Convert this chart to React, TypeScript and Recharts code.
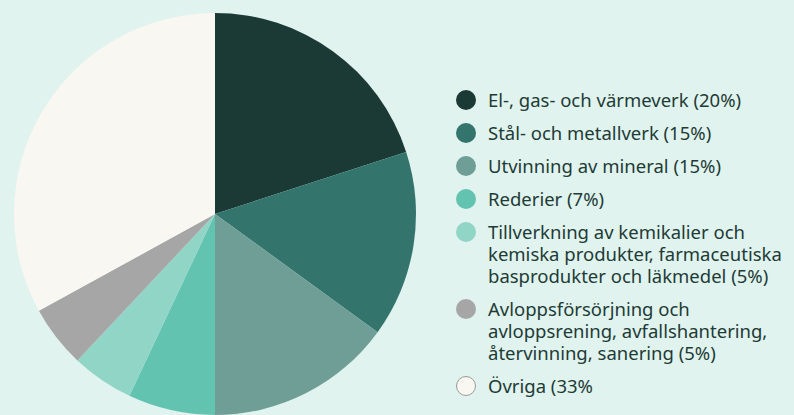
import React from 'react';
import { PieChart, Pie, Cell, Legend } from 'recharts';

const CATEGORIES = [
  'El-, gas- och värmeverk (20%)',
  'Stål- och metallverk (15%)',
  'Utvinning av mineral (15%)',
  'Rederier (7%)',
  'Tillverkning av kemikalier och\nkemiska produkter, farmaceutiska\nbasprodukter och läkmedel (5%)',
  'Avloppsförsörjning och\navloppsrening, avfallshantering,\nåtervinning, sanering (5%)',
  'Övriga (33%',
];
const VALUES = [20, 15, 15, 7, 5, 5, 33];
const COLORS = ['#1c3a35', '#33756c', '#6f9e97', '#62c4b0', '#91d5c6', '#a6a6a6', '#f9f7f1'];

const BG = '#e0f3ee';
const TEXT = '#1e3b36';

const data = CATEGORIES.map((name, i) => ({ name, value: VALUES[i] }));

const LegendList = () => (
  <div style={{ fontFamily: '"Noto Sans", sans-serif', fontSize: 18.5, color: TEXT }}>
    {data.map((d, i) => (
      <div key={i} style={{ display: 'flex', alignItems: 'flex-start', marginBottom: 11 }}>
        <span
          style={{
            width: 20,
            height: 20,
            marginTop: 1,
            borderRadius: '50%',
            background: COLORS[i],
            boxSizing: 'border-box',
            border: i === COLORS.length - 1 ? '1px solid #9a9a9a' : 'none',
            flexShrink: 0,
            marginRight: 12,
          }}
        />
        <span style={{ whiteSpace: 'pre-line', lineHeight: '22px' }}>{d.name}</span>
      </div>
    ))}
  </div>
);

const App: React.FC = () => {
  return (
    <div style={{ position: 'fixed', top: 0, left: 0, width: 794, height: 415, background: BG }}>
      <PieChart width={794} height={415} margin={{ top: 0, right: 0, bottom: 0, left: 0 }}>
        <Pie
          data={data}
          dataKey="value"
          cx={215}
          cy={214}
          outerRadius={201}
          startAngle={90}
          endAngle={-270}
          stroke="none"
          isAnimationActive={false}
        >
          {data.map((_, i) => (
            <Cell key={`cell-${i}`} fill={COLORS[i]} />
          ))}
        </Pie>
        <Legend
          content={() => <LegendList />}
          wrapperStyle={{ left: 456, top: 89, width: 338, bottom: 'auto' }}
        />
      </PieChart>
    </div>
  );
};

export default App;
